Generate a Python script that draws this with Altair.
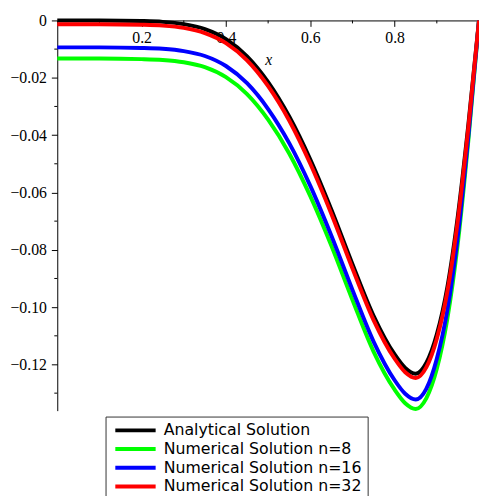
import altair as alt
import pandas as pd

# ---- data ----
x_vals = [0.0, 0.1, 0.2, 0.25, 0.3, 0.35, 0.4, 0.45, 0.5, 0.55, 0.6, 0.65, 0.7,
          0.75, 0.8, 0.825, 0.85, 0.875, 0.9, 0.925, 0.95, 0.975, 1.0]
analytical = [0.0, 0.0, -0.0002, -0.0005, -0.0013, -0.0030, -0.0065, -0.0125, -0.0215,
              -0.0335, -0.0485, -0.0660, -0.0850, -0.1030, -0.1165, -0.1212, -0.1232,
              -0.1195, -0.1095, -0.0930, -0.0680, -0.0360, 0.0]
num_n8 = [-0.0133, -0.0133, -0.0135, -0.0138, -0.0146, -0.0163, -0.0198, -0.0257, -0.0346,
          -0.0464, -0.0613, -0.0786, -0.0975, -0.1155, -0.1288, -0.1335, -0.1355,
          -0.1318, -0.1215, -0.1040, -0.0775, -0.0415, 0.0]
num_n16 = [-0.0094, -0.0094, -0.0096, -0.0099, -0.0107, -0.0124, -0.0159, -0.0219, -0.0309,
           -0.0428, -0.0577, -0.0751, -0.0940, -0.1120, -0.1255, -0.1302, -0.1322,
           -0.1285, -0.1180, -0.1010, -0.0750, -0.0400, 0.0]
num_n32 = [-0.0013, -0.0013, -0.0015, -0.0018, -0.0026, -0.0044, -0.0079, -0.0139, -0.0229,
           -0.0349, -0.0500, -0.0675, -0.0865, -0.1045, -0.1180, -0.1227, -0.1247,
           -0.1210, -0.1110, -0.0945, -0.0695, -0.0370, 0.0]

series_names = ["Analytical Solution", "Numerical Solution n=8",
                "Numerical Solution n=16", "Numerical Solution n=32"]
series_colors = ["#000000", "#00ff00", "#0000ff", "#ff0000"]

x_major = [0.2, 0.4, 0.6, 0.8, 1.0]
x_minor = [0.1, 0.3, 0.5, 0.7, 0.9]
y_major = [0.0, -0.02, -0.04, -0.06, -0.08, -0.10, -0.12]
y_minor = [-0.01, -0.03, -0.05, -0.07, -0.09, -0.11, -0.13]
y_domain = [-0.1361, 0.0]

# ---- build table ----
rows = []
for name, ys in zip(series_names, [analytical, num_n8, num_n16, num_n32]):
    for xv, yv in zip(x_vals, ys):
        rows.append({"x": xv, "y": yv, "series": name})
df = pd.DataFrame(rows)

W, H = 428, 396
SERIF = "'Liberation Serif', 'Times New Roman', Times, 'DejaVu Serif', serif"

xscale = alt.Scale(domain=[0, 1], nice=False, zero=False)
yscale = alt.Scale(domain=y_domain, nice=False, zero=False)
cscale = alt.Scale(domain=series_names, range=series_colors)

x_axis = alt.Axis(
    orient="bottom", offset=-H, values=x_major, tickSize=6, labelPadding=3,
    labelFont=SERIF, labelFontSize=16, labelColor="black", labelFlush=False,
    labelOverlap=False, labelExpr="datum.value == 1 ? '1' : format(datum.value, '.1f')",
    domainColor="black", tickColor="black", grid=False,
    title="x", titleFont=SERIF, titleFontSize=16, titleFontStyle="italic",
    titleFontWeight="normal", titleColor="black", titleX=214, titleY=45,
    titleBaseline="alphabetic", titleAlign="center",
)
y_axis = alt.Axis(
    values=y_major, tickSize=6, labelPadding=5, labelFont=SERIF, labelFontSize=16,
    labelColor="black", labelFlush=False, labelOverlap=False,
    labelExpr="datum.value == 0 ? '0' : replace(format(datum.value, '.2f'), '-', '\u2212')",
    domainColor="black", tickColor="black", grid=False, title=None,
)
legend = alt.Legend(
    orient="none", legendX=49, legendY=402, direction="vertical", title=None,
    symbolType="M-1,0H9", symbolSize=67, symbolStrokeWidth=4,
    labelFont="DejaVu Sans", labelFontSize=16, labelColor="black", labelOffset=37,
    labelLimit=400, padding=6, rowPadding=3, strokeColor="#333333", fillColor="white",
)

xminor = alt.Chart(pd.DataFrame({"x": x_minor})).mark_rule(color="black").encode(
    x=alt.X("x:Q", scale=xscale), y=alt.value(0), y2=alt.value(3))
yminor = alt.Chart(pd.DataFrame({"y": y_minor})).mark_rule(color="black").encode(
    y=alt.Y("y:Q", scale=yscale), x=alt.value(-3), x2=alt.value(0))

layers = [xminor, yminor]
for i, name in enumerate(series_names):
    enc = dict(
        x=alt.X("x:Q", scale=xscale, axis=x_axis),
        y=alt.Y("y:Q", scale=yscale, axis=y_axis),
        color=alt.Color("series:N", scale=cscale, legend=legend),
    )
    layers.append(
        alt.Chart(df).transform_filter(alt.datum.series == name)
        .mark_line(strokeWidth=4, interpolate="monotone", clip=False)
        .encode(**enc)
    )

chart = alt.layer(*layers).properties(
    width=W, height=H,
    autosize=alt.AutoSizeParams(type="none"),
    padding={"left": 50, "top": 9, "right": 0, "bottom": 83},
    background="white",
).configure_view(stroke=None)

chart.save("out.html", embed_options={"renderer": "svg", "actions": False})
